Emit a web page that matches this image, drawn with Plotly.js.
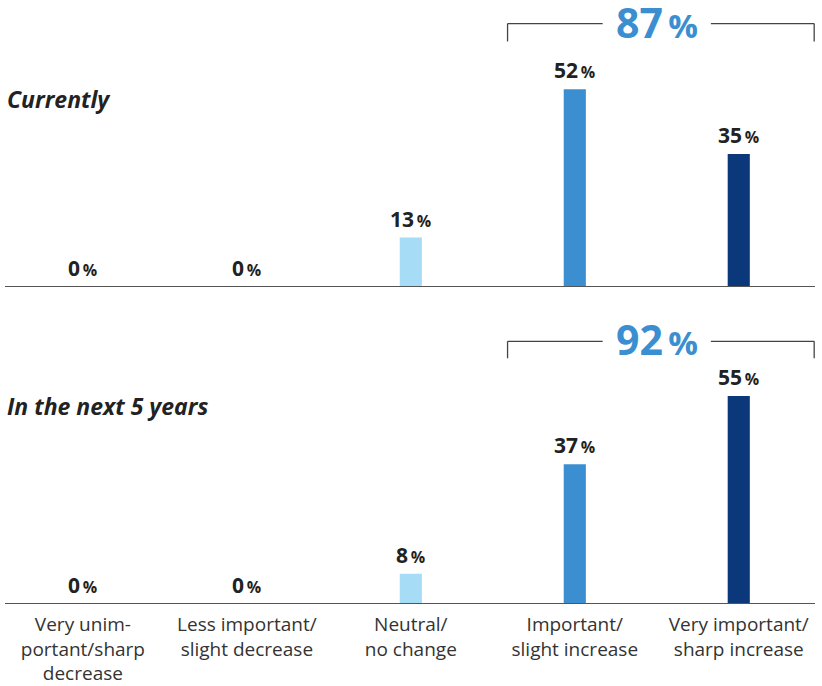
<!DOCTYPE html>
<html>
<head>
<meta charset="utf-8">
<script src="https://cdn.plot.ly/plotly-3.0.1.min.js"></script>
<style>html,body{margin:0;padding:0;background:#fff;}#chart{width:822px;height:686px;}</style>
</head>
<body>
<div id="chart"></div>
<script>
const categories = ["Very unim-<br>portant/sharp<br>decrease", "Less important/<br>slight decrease", "Neutral/<br>no change", "Important/<br>slight increase", "Very important/<br>sharp increase"];
const currentValues = [0, 0, 13, 52, 35];
const futureValues = [0, 0, 8, 37, 55];
const panelTitles = ["Currently", "In the next 5 years"];
const barColors = ["#a6dcf6", "#a6dcf6", "#a6dcf6", "#3b8fd1", "#0a387a"];

const xIdx = categories.map((_, i) => i);
const xRange = [-0.475, 4.465];
const txtColor = "#222222";
const font = "'Open Sans', 'Noto Sans', sans-serif";
const thin = "\u2009";

function pct(v, small) {
  return "<b>" + v + "</b><span style='font-size:" + small + "px'><b>" + thin + "%</b></span>";
}

const traces = [
  {type: "bar", x: xIdx, y: currentValues, xaxis: "x", yaxis: "y",
   marker: {color: barColors}, width: 0.135, hoverinfo: "skip"},
  {type: "bar", x: xIdx, y: futureValues, xaxis: "x2", yaxis: "y2",
   marker: {color: barColors}, width: 0.135, hoverinfo: "skip"}
];

const annotations = [];
const shapes = [];
[[currentValues, "x", "y"], [futureValues, "x2", "y2"]].forEach(([vals, xa, ya]) => {
  vals.forEach((v, i) => {
    annotations.push({x: i, y: v, xref: xa, yref: ya, text: pct(v, 16),
      showarrow: false, yanchor: "bottom", yshift: 3,
      font: {family: font, size: 21, color: txtColor}});
  });
  shapes.push({type: "line", xref: xa + " domain", yref: ya, x0: 0, x1: 1, y0: 0, y1: 0,
    line: {color: "#555555", width: 2}});
});

const brackets = [
  {vals: currentValues, xa: "x", ya: "y", yTop: 69.3, yBot: 64.6},
  {vals: futureValues, xa: "x2", ya: "y2", yTop: 69.5, yBot: 65.0}
];
brackets.forEach(b => {
  const total = b.vals[3] + b.vals[4];
  const x0 = 2.59, x1 = 4.46, xc = 3.5, gap = 0.33;
  const ln = {color: "#444", width: 1.3};
  shapes.push({type: "line", xref: b.xa, yref: b.ya, x0: x0, x1: xc - gap, y0: b.yTop, y1: b.yTop, line: ln});
  shapes.push({type: "line", xref: b.xa, yref: b.ya, x0: xc + gap, x1: x1, y0: b.yTop, y1: b.yTop, line: ln});
  shapes.push({type: "line", xref: b.xa, yref: b.ya, x0: x0, x1: x0, y0: b.yTop, y1: b.yBot, line: ln});
  shapes.push({type: "line", xref: b.xa, yref: b.ya, x0: x1, x1: x1, y0: b.yTop, y1: b.yBot, line: ln});
  annotations.push({x: xc, y: b.yTop, xref: b.xa, yref: b.ya, showarrow: false,
    text: "<b>" + total + "</b><span style='font-size:33px'><b>" + thin + "%</b></span>",
    yanchor: "middle", yshift: 2,
    font: {family: font, size: 41, color: "#3b8fd1"}});
});

annotations.push({x: 0, y: 0.836, xref: "paper", yref: "paper", xanchor: "left", yanchor: "middle",
  showarrow: false, text: "<b><i>" + panelTitles[0] + "</i></b>", font: {family: font, size: 23, color: txtColor}});
annotations.push({x: 0, y: 0.327, xref: "paper", yref: "paper", xanchor: "left", yanchor: "middle",
  showarrow: false, text: "<b><i>" + panelTitles[1] + "</i></b>", font: {family: font, size: 23, color: txtColor}});

const layout = {
  width: 822, height: 686,
  margin: {l: 5, r: 7, t: 0, b: 82},
  paper_bgcolor: "#fff", plot_bgcolor: "#fff",
  showlegend: false,
  font: {family: font, color: txtColor},
  xaxis: {anchor: "y", range: xRange, showticklabels: false, showgrid: false, zeroline: false, showline: false, ticks: ""},
  yaxis: {domain: [0.5248, 1], range: [0, 75.5], showticklabels: false, showgrid: false, zeroline: false, showline: false},
  xaxis2: {anchor: "y2", range: xRange, tickvals: xIdx, ticktext: categories, showgrid: false, zeroline: false, showline: false, ticks: "",
    tickfont: {family: font, size: 19, color: "#333"}, ticklabelstandoff: 7},
  yaxis2: {domain: [0, 0.47], range: [0, 75.1], showticklabels: false, showgrid: false, zeroline: false, showline: false},
  annotations: annotations,
  shapes: shapes
};

Plotly.newPlot("chart", traces, layout, {displayModeBar: false, staticPlot: true});
</script>
</body>
</html>
